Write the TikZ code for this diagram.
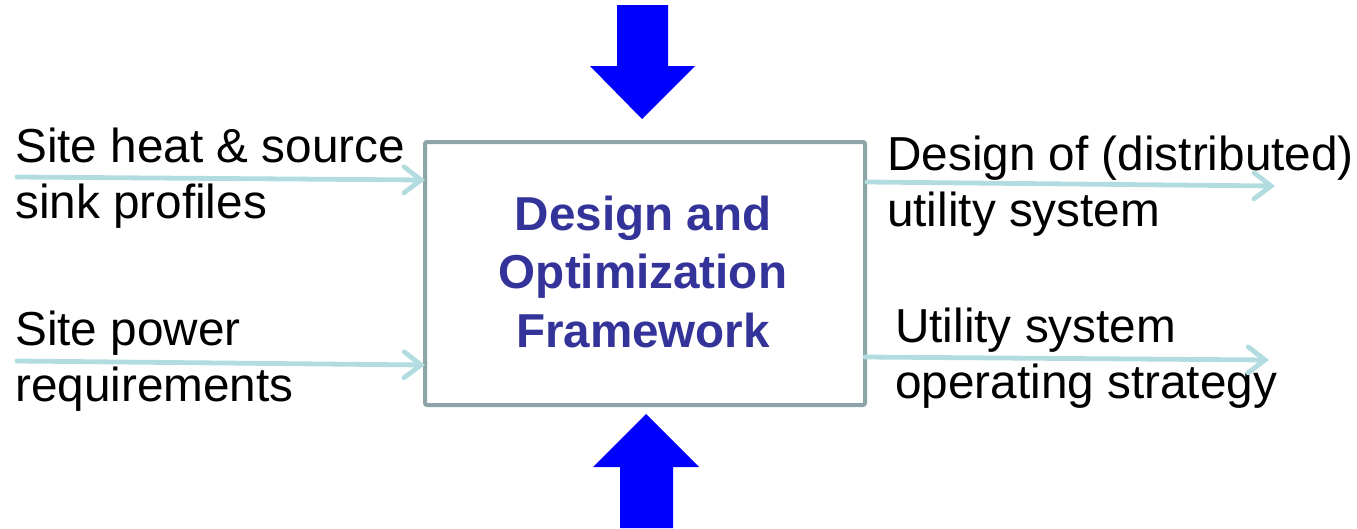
\documentclass[tikz,border=0pt]{standalone}
\usepackage{fontspec}
\setmainfont{Liberation Sans}
\usetikzlibrary{arrows.meta}
\definecolor{boxgray}{HTML}{8DA5A9}
\definecolor{flow}{HTML}{B2DCE0}
\definecolor{titleblue}{HTML}{333399}
\definecolor{bigblue}{HTML}{0000FF}
\begin{document}
\begin{tikzpicture}[x=1pt,y=-1pt,
  lbl/.style={anchor=base west,inner sep=0pt,font=\fontsize{47.7}{56}\selectfont},
  ttl/.style={anchor=base,inner sep=0pt,font=\fontsize{47.6}{58}\selectfont\bfseries,text=titleblue},
  flowarrow/.style={draw=flow,line width=4.8pt,line cap=round,-{Straight Barb[length=17pt,width=26pt,line cap=round]}},
  bigarrow/.style={fill=bigblue,draw=none}]
\useasboundingbox (0,0) rectangle (1357,528);
% main box
\node[draw=boxgray,line width=4pt,rounded corners=2pt,minimum width=440pt,minimum height=263pt,inner sep=0pt] (box) at (645,273.5) {};
\node[ttl] (t1) at (643,230) {Design and};
\node[ttl] (t2) at (643,288) {Optimization};
\node[ttl] (t3) at (643,347) {Framework};
% big blue arrows
\fill[bigblue] (617,5) -- (668,5) -- (668,66) -- (695,66) -- (642,119) -- (590,66) -- (617,66) -- cycle;
\fill[bigblue] (620,528) -- (673,528) -- (673,467) -- (699,467) -- (646,414) -- (593,467) -- (620,467) -- cycle;
% left labels
\node[lbl] (a1) at (15,162) {Site heat \& source};
\node[lbl] (a2) at (15,218) {sink profiles};
\node[lbl] (b1) at (15,345) {Site power};
\node[lbl] (b2) at (15,401) {requirements};
% right labels
\node[lbl] (c1) at (887,170) {Design of (distributed)};
\node[lbl] (c2) at (887,226) {utility system};
\node[lbl] (d1) at (895,342) {Utility system};
\node[lbl] (d2) at (895,398) {operating strategy};
% connectors
\coordinate (l1) at (17,177);
\coordinate (l2) at (17,361);
\coordinate (r1) at (1275,186);
\coordinate (r2) at (1269,360);
\coordinate (e1) at (425,180);
\coordinate (e2) at (425,365);
\coordinate (s1) at (867,182);
\coordinate (s2) at (865,357);
\draw[flowarrow] (l1) -- (e1);
\draw[flowarrow] (l2) -- (e2);
\draw[flowarrow] (s1) -- (r1);
\draw[flowarrow] (s2) -- (r2);
\end{tikzpicture}
\end{document}
